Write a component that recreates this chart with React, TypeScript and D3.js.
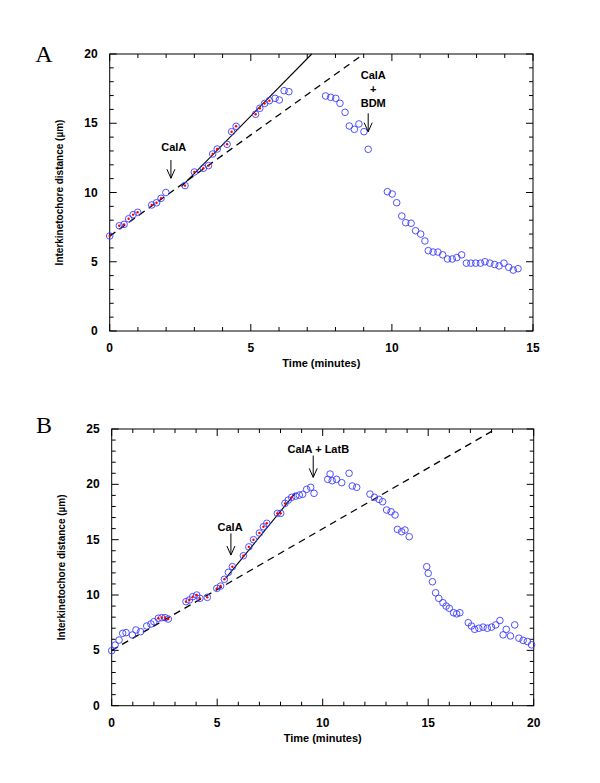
import React from "react";
import * as d3 from "d3";

// ---------- Panel A data ----------
const aTime = [0.0, 0.34, 0.51, 0.67, 0.83, 0.99, 1.49, 1.66, 1.82, 1.99, 2.67, 3.0, 3.32, 3.5, 3.65, 3.81, 4.16, 4.32, 4.48, 5.17, 5.32, 5.49, 5.66, 5.86, 6.01, 6.18, 6.35, 7.65, 7.83, 8.01, 8.16, 8.34, 8.49, 8.67, 8.83, 9.01, 9.16, 9.84, 10.01, 10.17, 10.35, 10.49, 10.68, 10.84, 11.02, 11.17, 11.29, 11.46, 11.63, 11.8, 11.97, 12.14, 12.3, 12.47, 12.64, 12.8, 12.97, 13.14, 13.3, 13.47, 13.64, 13.8, 13.97, 14.14, 14.3, 14.47];
const aDist = [6.86, 7.6, 7.7, 8.1, 8.4, 8.57, 9.1, 9.26, 9.58, 10.0, 10.5, 11.48, 11.75, 11.94, 12.78, 13.14, 13.48, 14.39, 14.78, 15.65, 16.08, 16.43, 16.63, 16.8, 16.68, 17.35, 17.28, 16.97, 16.87, 16.8, 16.44, 15.79, 14.8, 14.56, 14.95, 14.39, 13.12, 10.06, 9.89, 9.26, 8.3, 7.82, 7.78, 7.24, 7.0, 6.5, 5.8, 5.7, 5.7, 5.5, 5.2, 5.2, 5.3, 5.5, 4.9, 4.9, 4.9, 4.9, 5.0, 4.9, 4.8, 4.7, 4.9, 4.6, 4.4, 4.5];
const aFitted = [1, 1, 1, 1, 1, 1, 1, 1, 1, 0, 1, 1, 1, 1, 1, 1, 1, 1, 1, 1, 1, 1, 1];
const aDashed = [[0, 6.85], [9.0, 20]];
const aSolid = [[2.55, 10.45], [7.16, 20]];

// ---------- Panel B data ----------
const bTime = [0.0, 0.16, 0.35, 0.52, 0.68, 0.98, 1.15, 1.37, 1.66, 1.86, 2.0, 2.21, 2.37, 2.53, 2.68, 3.52, 3.68, 3.84, 4.03, 4.18, 4.53, 4.98, 5.16, 5.34, 5.53, 5.72, 6.24, 6.5, 6.72, 7.0, 7.19, 7.35, 7.85, 8.01, 8.21, 8.37, 8.53, 8.72, 8.89, 9.05, 9.24, 9.43, 9.59, 10.24, 10.35, 10.45, 10.66, 10.9, 11.25, 11.4, 11.61, 12.24, 12.45, 12.67, 12.84, 13.03, 13.24, 13.43, 13.54, 13.74, 13.9, 14.1, 14.93, 15.0, 15.2, 15.35, 15.5, 15.7, 15.85, 16.0, 16.2, 16.35, 16.5, 16.9, 17.05, 17.2, 17.4, 17.6, 17.8, 18.0, 18.2, 18.4, 18.55, 18.7, 18.9, 19.1, 19.3, 19.5, 19.7, 19.9];
const bDist = [4.97, 5.48, 5.93, 6.54, 6.6, 6.39, 6.84, 6.69, 7.2, 7.38, 7.59, 7.9, 7.95, 7.95, 7.83, 9.4, 9.55, 9.85, 10.0, 9.7, 9.79, 10.6, 10.81, 11.42, 12.05, 12.56, 13.55, 14.35, 15.0, 15.6, 16.17, 16.48, 17.38, 17.38, 18.28, 18.58, 18.83, 18.94, 19.03, 19.1, 19.55, 19.73, 19.19, 20.45, 20.93, 20.33, 20.45, 20.15, 21.0, 19.85, 19.73, 19.12, 18.83, 18.64, 18.43, 17.68, 17.52, 17.23, 15.93, 15.72, 15.87, 15.27, 12.56, 11.96, 11.2, 10.2, 9.7, 9.3, 9.0, 8.8, 8.4, 8.3, 8.4, 7.5, 7.2, 6.9, 7.0, 7.1, 7.0, 7.1, 7.3, 7.7, 6.4, 6.9, 6.3, 7.3, 6.1, 5.9, 5.8, 5.5];
const bFitted = [0, 0, 0, 0, 0, 0, 0, 0, 0, 0, 0, 1, 1, 1, 1, 1, 1, 1, 1, 1, 1, 1, 1, 1, 0, 1, 1, 1, 1, 1, 1, 1, 1, 1, 1, 0, 1];
const bDashed = [[0, 5.0], [18.2, 25]];
const bSolid = [[5.4, 11.5], [8.7, 19.2]];

// ---------- ticks ----------
const aXTicks = [0, 5, 10, 15];
const aYTicks = [0, 5, 10, 15, 20];
const bXTicks = [0, 5, 10, 15, 20];
const bYTicks = [0, 5, 10, 15, 20, 25];

const FONT = "'Liberation Sans', Arial, sans-serif";
const BLUE = "#3d3dff";

type Annot = { lines: string[]; tx: number; ty: number; ax: number; ay0: number; ay1: number };

const aAnnots: Annot[] = [
  { lines: ["CalA"], tx: 2.27, ty: 13.26, ax: 2.17, ay0: 12.35, ay1: 11.03 },
  { lines: ["CalA", "+", "BDM"], tx: 9.34, ty: 18.48, ax: 9.16, ay0: 15.72, ay1: 14.39 },
];
const bAnnots: Annot[] = [
  { lines: ["CalA"], tx: 5.61, ty: 16.17, ax: 5.65, ay0: 15.57, ay1: 13.61 },
  { lines: ["CalA + LatB"], tx: 9.79, ty: 23.16, ax: 9.55, ay0: 22.6, ay1: 20.63 },
];

type PanelProps = {
  letter: string;
  letterDy: number;
  time: number[];
  dist: number[];
  fitted: number[];
  dashed: number[][];
  solid: number[][];
  xDomain: [number, number];
  yDomain: [number, number];
  xRange: [number, number];
  yRange: [number, number];
  xTicks: number[];
  yTicks: number[];
  annots: Annot[];
};

function Panel(p: PanelProps) {
  const x = d3.scaleLinear().domain(p.xDomain).range(p.xRange);
  const y = d3.scaleLinear().domain(p.yDomain).range(p.yRange);
  const [x0, x1] = p.xRange;
  const [y0, y1] = p.yRange; // y0 bottom, y1 top
  const xMinor = d3.range(p.xDomain[0], p.xDomain[1] + 0.001, 1);
  const yMinor = d3.range(p.yDomain[0], p.yDomain[1] + 0.001, 1);
  const line = d3.line<number[]>().x((d) => x(d[0])).y((d) => y(d[1]));
  const tickLen = (v: number) => (v % 5 === 0 ? 7 : 4);
  const midX = (x0 + x1) / 2;
  const midY = (y0 + y1) / 2;
  return (
    <g>
      <text x={44} y={y1 + p.letterDy} fontFamily="'Liberation Serif', 'Times New Roman', serif" fontSize={24} textAnchor="middle">
        {p.letter}
      </text>
      {/* frame */}
      <rect x={x0} y={y1} width={x1 - x0} height={y0 - y1} fill="none" stroke="#000" strokeWidth={1} />
      {xMinor.map((v) => (
        <g key={"xt" + v}>
          <line x1={x(v)} x2={x(v)} y1={y0} y2={y0 - tickLen(v)} stroke="#000" />
          <line x1={x(v)} x2={x(v)} y1={y1} y2={y1 + tickLen(v)} stroke="#000" />
        </g>
      ))}
      {yMinor.map((v) => (
        <g key={"yt" + v}>
          <line x1={x0} x2={x0 + tickLen(v)} y1={y(v)} y2={y(v)} stroke="#000" />
          <line x1={x1} x2={x1 - tickLen(v)} y1={y(v)} y2={y(v)} stroke="#000" />
        </g>
      ))}
      {p.xTicks.map((v) => (
        <text key={"xl" + v} x={x(v)} y={y0 + 21} fontFamily={FONT} fontWeight="bold" fontSize={12} textAnchor="middle">
          {v}
        </text>
      ))}
      {p.yTicks.map((v) => (
        <text key={"yl" + v} x={x0 - 12} y={y(v) + 4} fontFamily={FONT} fontWeight="bold" fontSize={12} textAnchor="end">
          {v}
        </text>
      ))}
      <text x={midX} y={y0 + 36} fontFamily={FONT} fontWeight="bold" fontSize={11} textAnchor="middle">
        Time (minutes)
      </text>
      <text
        transform={`translate(${x0 - 51},${midY}) rotate(-90)`}
        fontFamily={FONT}
        fontWeight="bold"
        fontSize={10}
        textAnchor="middle"
        dy={4}
      >
        Interkinetochore distance (µm)
      </text>
      {/* fit lines */}
      <path d={line(p.dashed) || ""} fill="none" stroke="#000" strokeWidth={1.3} strokeDasharray="7,5" />
      <path d={line(p.solid) || ""} fill="none" stroke="#000" strokeWidth={1.1} />
      {/* points */}
      {p.time.map((t, i) => (
        <circle key={"c" + i} cx={x(t)} cy={y(p.dist[i])} r={3.3} fill="none" stroke={BLUE} strokeWidth={0.9} />
      ))}
      {p.time.map((t, i) =>
        p.fitted[i] ? <circle key={"r" + i} cx={x(t)} cy={y(p.dist[i])} r={1.2} fill="#ff0000" /> : null
      )}
      {/* annotations */}
      {p.annots.map((a, i) => (
        <g key={"a" + i}>
          {a.lines.map((s, j) => (
            <text
              key={j}
              x={x(a.tx)}
              y={y(a.ty) + 4 + j * 14}
              fontFamily={FONT}
              fontWeight="bold"
              fontSize={11}
              textAnchor="middle"
            >
              {s}
            </text>
          ))}
          <line x1={x(a.ax)} x2={x(a.ax)} y1={y(a.ay0)} y2={y(a.ay1)} stroke="#000" strokeWidth={1} />
          <path
            d={`M${x(a.ax) - 4},${y(a.ay1) - 9} L${x(a.ax)},${y(a.ay1)} L${x(a.ax) + 4},${y(a.ay1) - 9}`}
            fill="none"
            stroke="#000"
            strokeWidth={1}
          />
        </g>
      ))}
    </g>
  );
}

export default function App() {
  return (
    <svg width={600} height={783} style={{ position: "absolute", left: 0, top: 0, background: "#fff" }}>
      <rect width={600} height={783} fill="#fff" />
      <Panel
        letter="A"
        letterDy={8}
        time={aTime}
        dist={aDist}
        fitted={aFitted}
        dashed={aDashed}
        solid={aSolid}
        xDomain={[0, 15]}
        yDomain={[0, 20]}
        xRange={[109.7, 533]}
        yRange={[331, 54]}
        xTicks={aXTicks}
        yTicks={aYTicks}
        annots={aAnnots}
      />
      <Panel
        letter="B"
        letterDy={4}
        time={bTime}
        dist={bDist}
        fitted={bFitted}
        dashed={bDashed}
        solid={bSolid}
        xDomain={[0, 20]}
        yDomain={[0, 25]}
        xRange={[111.7, 533.7]}
        yRange={[705.7, 429]}
        xTicks={bXTicks}
        yTicks={bYTicks}
        annots={bAnnots}
      />
    </svg>
  );
}
